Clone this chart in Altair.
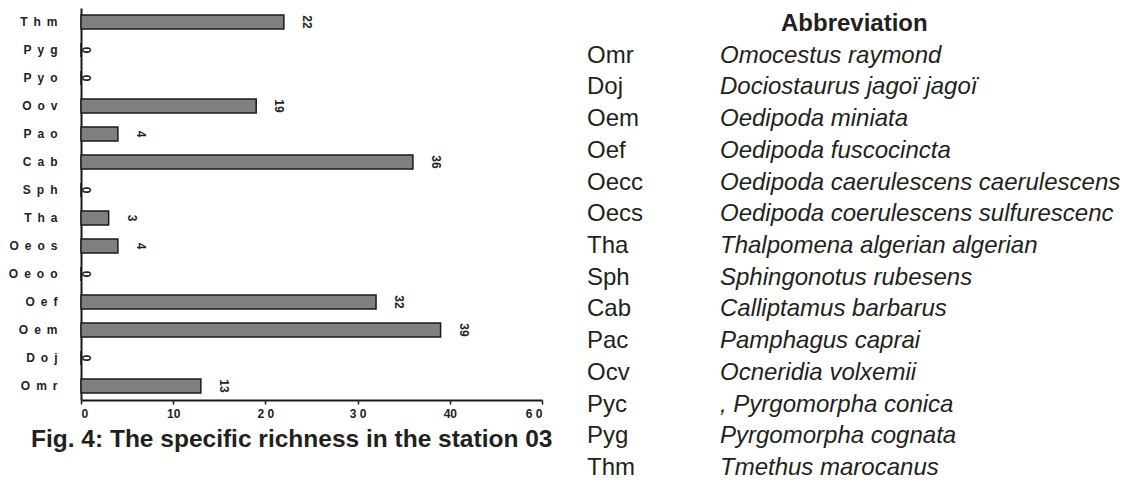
import altair as alt
import pandas as pd

# ---- bar chart data (top to bottom) ----
codes = ["Thm", "Pyg", "Pyo", "Oov", "Pao", "Cab", "Sph", "Tha", "Oeos", "Oeoo", "Oef", "Oem", "Doj", "Omr"]
values = [22, 0, 0, 19, 4, 36, 0, 3, 4, 0, 32, 39, 0, 13]
tick_values = [0, 10, 20, 30, 40, 50]
tick_labels = ["0", "10", "2 0", "3 0", "40", "6 0"]

# ---- abbreviation table ----
abbr = ["Omr", "Doj", "Oem", "Oef", "Oecc", "Oecs", "Tha", "Sph", "Cab", "Pac", "Ocv", "Pyc", "Pyg", "Thm"]
names = ["Omocestus raymond", "Dociostaurus jagoï jagoï", "Oedipoda miniata", "Oedipoda fuscocincta",
         "Oedipoda caerulescens caerulescens", "Oedipoda coerulescens sulfurescenc",
         "Thalpomena algerian algerian", "Sphingonotus rubesens", "Calliptamus barbarus",
         "Pamphagus caprai", "Ocneridia volxemii", ", Pyrgomorpha conica", "Pyrgomorpha cognata",
         "Tmethus marocanus"]
header = "Abbreviation"
caption = "Fig. 4: The specific richness in the station 03"

FONT = "Liberation Sans"
TXT = "#231f20"

labels = ["\u2002".join(list(c)) for c in codes]
df = pd.DataFrame({"label": labels, "value": values})

expr = " : ".join([f"datum.value == {v} ? '{l}'" for v, l in zip(tick_values, tick_labels)]) + " : ''"

yenc = alt.Y("label:N", sort=labels,
             scale=alt.Scale(paddingInner=0.5, paddingOuter=0.25),
             axis=alt.Axis(title=None, ticks=False, labelFont=FONT, labelFontSize=12,
                           labelFontWeight="bold", labelColor="#222", labelPadding=24,
                           domainWidth=2, domainColor="#1a1a1a", minExtent=72, maxExtent=72))
xenc = alt.X("value:Q", scale=alt.Scale(domain=[0, 50], nice=False),
             axis=alt.Axis(title=None, values=tick_values, labelExpr=expr, grid=False,
                           tickSize=4, tickColor="#1a1a1a", tickWidth=1.5,
                           domainWidth=2, domainColor="#1a1a1a",
                           labelFont=FONT, labelFontSize=12, labelFontWeight="bold",
                           labelColor="#222", labelPadding=4))

base = alt.Chart(df)
bars = base.mark_bar(fill="#808080", stroke="#1a1a1a", strokeWidth=1.5).encode(x=xenc, y=yenc)
txt_nz = base.transform_filter("datum.value > 0").mark_text(
    angle=90, dy=-23, fontSize=12, fontWeight="bold", font=FONT, color="#222",
    baseline="middle", align="center").encode(x="value:Q", y=alt.Y("label:N", sort=labels), text="value:Q")
txt_z = base.transform_filter("datum.value == 0").mark_text(
    angle=90, dy=-5, fontSize=12, fontWeight="bold", font=FONT, color="#222",
    baseline="middle", align="center").encode(x="value:Q", y=alt.Y("label:N", sort=labels), text="value:Q")

left = alt.layer(bars, txt_nz, txt_z).properties(
    width=461, height=392,
    title=alt.TitleParams(caption, orient="bottom", anchor="start", frame="group", dx=-50, offset=9,
                          fontSize=24.5, font=FONT, fontWeight="bold", color=TXT))

# table
rows = list(range(len(abbr)))
tdf = pd.DataFrame({"row": rows, "abbr": abbr, "name": names})
hdf = pd.DataFrame({"row": [-1], "text": [header]})
yrow = alt.Y("row:Q", scale=alt.Scale(domain=[-1, 13], range=[23, 467]), axis=None)

t_abbr = alt.Chart(tdf).mark_text(align="left", baseline="alphabetic", font=FONT, fontSize=24,
                                  color=TXT).encode(x=alt.value(0), y=yrow, text="abbr:N")
t_name = alt.Chart(tdf).mark_text(align="left", baseline="alphabetic", font=FONT, fontSize=24,
                                  fontStyle="italic", color=TXT).encode(x=alt.value(133), y=yrow, text="name:N")
t_head = alt.Chart(hdf).mark_text(align="left", baseline="alphabetic", font=FONT, fontSize=24,
                                  fontWeight="bold", color=TXT).encode(x=alt.value(194), y=yrow, text="text:N")
right = alt.layer(t_abbr, t_name, t_head).properties(width=530, height=466)

chart = alt.hconcat(left, right, spacing=34, padding=0, background="white").configure_view(stroke=None)

chart.save("out.html", embed_options={"renderer": "svg", "actions": False})
